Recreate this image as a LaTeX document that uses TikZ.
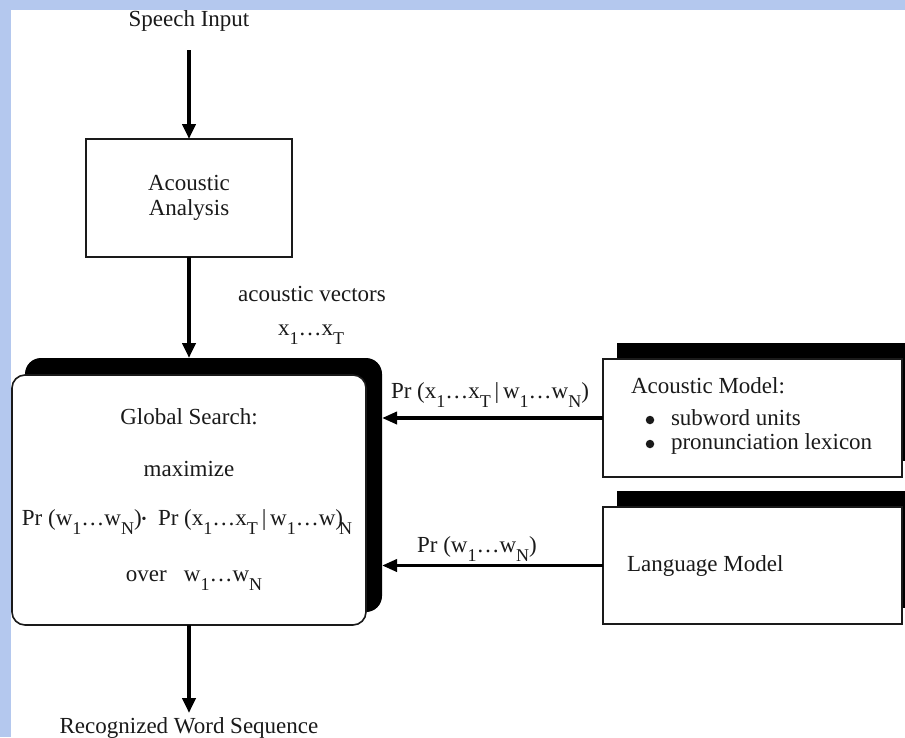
\documentclass[tikz,border=0pt]{standalone}
\usepackage{fontspec}
\setmainfont{Liberation Serif}
\usetikzlibrary{arrows.meta}
\definecolor{bgblue}{HTML}{B4C8EE}
\definecolor{ink}{HTML}{1A1A1A}
\newcommand\lsub[1]{\raisebox{-8.5pt}{\fontsize{18}{18}\selectfont #1}}
\begin{document}
\begin{tikzpicture}[x=1pt,y=-1pt,
  font=\fontsize{23}{25}\selectfont,
  box/.style={draw=ink, line width=1.6pt, fill=white, inner sep=0pt, outer sep=0pt},
  shadowbox/.style={fill=black, draw=none, inner sep=0pt, outer sep=0pt},
  arr/.style={line width=4pt, draw=black, -{Triangle[length=15pt,width=13pt]}},
  harr/.style={line width=3.6pt, draw=black, -{Triangle[length=15pt,width=12pt]}},
  dotmark/.style={circle, fill=ink, draw=none, inner sep=0pt, minimum size=8.5pt},
  txt/.style={inner sep=0pt, outer sep=0pt, text=ink, text height=16pt, text depth=5pt}]
\fill[bgblue] (0,0) rectangle (905,737);
\fill[white] (11,10) rectangle (905,737);
\useasboundingbox (0,0) rectangle (905,737);

% top input
\node[txt] (si) at (189,21) {Speech Input};
\coordinate (s0) at (189,50);

% acoustic analysis
\node[box, minimum width=206pt, minimum height=118pt, align=center, text=ink] (aa) at (189,198) {Acoustic\\[0pt]Analysis};

\node[txt] (av) at (312,296) {acoustic vectors};
\node[txt] (xv) at (311,330) {x\lsub{1}…x\lsub{T}};

% global search
\node[shadowbox, rounded corners=16pt, minimum width=357pt, minimum height=254pt] (gss) at (203.5,485) {};
\node[box, rounded corners=13pt, minimum width=354pt, minimum height=250pt] (gs) at (189,500) {};
\node[txt] (g1) at (189,419) {Global Search:};
\node[txt] (g2) at (189,471) {maximize};
\node[txt] (g3) at (187,520) {Pr (w\lsub{1}…w\lsub{N})\raisebox{2pt}{\fontsize{14}{14}\selectfont •}\ \ Pr (x\lsub{1}…x\lsub{T}\,|\,w\lsub{1}…w)\kern-4pt\lsub{N}};
\node[txt] (g4) at (194,576) {over\ \ \ w\lsub{1}…w\lsub{N}};

% acoustic model
\node[shadowbox, minimum width=299pt, minimum height=118pt] (ams) at (766.5,402) {};
\node[box, minimum width=299pt, minimum height=118pt] (am) at (752.5,418) {};
\node[txt, anchor=west] (am1) at (631,388) {Acoustic Model:};
\node[dotmark] (b1) at (650,420) {};
\node[txt, anchor=west] (am2) at (671,420) {subword units};
\node[dotmark] (b2) at (650,444) {};
\node[txt, anchor=west] (am3) at (671,444) {pronunciation lexicon};

% language model
\node[shadowbox, minimum width=299pt, minimum height=117pt] (lms) at (766.5,549.5) {};
\node[box, minimum width=299pt, minimum height=117pt] (lm) at (752.5,565.5) {};
\node[txt, anchor=west] (lm1) at (627,566) {Language Model};

% labels on horizontal arrows
\node[txt] (pa) at (490,393) {Pr (x\lsub{1}…x\lsub{T}\,|\,w\lsub{1}…w\lsub{N})};
\node[txt] (pl) at (477,547) {Pr (w\lsub{1}…w\lsub{N})};

% output
\coordinate (o0) at (189,713);
\node[txt] (rw) at (189,728) {Recognized Word Sequence};

% connectors
\draw[arr] (s0) -- (aa.north);
\draw[arr] (aa.south) -- (aa.south |- gss.north);
\draw[arr] (gs.south) -- (o0);
\draw[harr] (am.west) -- (am.west -| gss.east);
\draw[harr] (lm.west) -- (lm.west -| gss.east);
\end{tikzpicture}
\end{document}
